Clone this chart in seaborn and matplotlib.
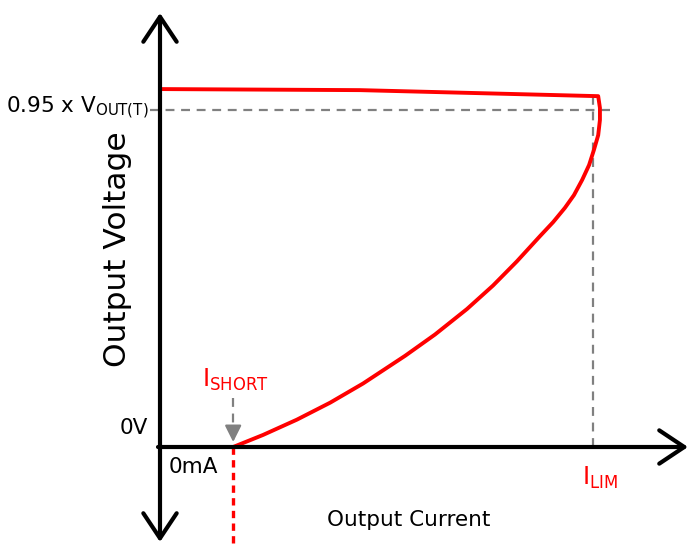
import numpy as np
import pandas as pd
import matplotlib
matplotlib.use("Agg")
import matplotlib.pyplot as plt
import seaborn as sns

# foldback current limit curve, current in % of I_LIM, voltage in % of V_OUT(T)
current = [0, 46.2, 101.2, 101.6, 101.6, 101.2, 100.2, 99.1, 97.5, 95.6,
           93.5, 90.8, 87.8, 82.4, 76.9, 70.9, 63.5, 56.6, 46.9, 39.3,
           31.6, 23.8, 16.9]
voltage = [100.9, 100.6, 98.9, 95.6, 92.2, 87.9, 83.7, 79.5, 75.3, 71.0,
           67.4, 63.4, 59.5, 52.3, 45.5, 38.9, 31.7, 25.7, 17.9, 12.5,
           7.7, 3.4, 0.0]

i_short = 16.9
i_lim = 100.0
v_knee = 95.0

sns.set_style("white")
plt.rcParams['font.family'] = ['DejaVu Sans']
plt.rcParams['text.color'] = 'black'

# pixel mapping: 1 % current = 4.33 px, 1 % voltage = 337/95 px
xpx = 433 / 100.0
ypx = 337 / 95.0
x0, y0 = 160, 447  # origin in pixels

fig = plt.figure(figsize=(6.9, 5.44), dpi=100)
ax = fig.add_axes([0, 0, 1, 1])
ax.set_xlim(-x0 / xpx, (690 - x0) / xpx)
ax.set_ylim(-(544 - y0) / ypx, y0 / ypx)
ax.axis("off")

def px(x, y):
    return (x - x0) / xpx, (y0 - y) / ypx

# axes with arrows
ax.annotate("", xy=px(160, 13), xytext=px(160, 542),
            arrowprops=dict(arrowstyle="<->,head_length=1.8,head_width=1.2",
                            lw=3, color="black", shrinkA=0, shrinkB=0))
ax.annotate("", xy=px(688, 447), xytext=px(158, 447),
            arrowprops=dict(arrowstyle="->,head_length=1.8,head_width=1.2",
                            lw=3, color="black", shrinkA=0, shrinkB=0))

# guide lines
gray = "#808080"
ax.plot([px(150, 0)[0], px(612, 0)[0]], [v_knee, v_knee], color=gray,
        lw=1.6, dashes=(4, 3))
ax.plot([i_lim, i_lim], [0, px(0, 92)[1]], color=gray, lw=1.6, dashes=(4, 3))

# short-circuit marker
ax.plot([i_short, i_short], [px(0, 398)[1], px(0, 428)[1]], color=gray,
        lw=1.6, dashes=(4, 3))
ax.annotate("", xy=(i_short, px(0, 442)[1]), xytext=(i_short, px(0, 427)[1]),
            arrowprops=dict(arrowstyle="-|>,head_length=1.0,head_width=0.5",
                            lw=1.6, color=gray, shrinkA=0, shrinkB=0))
ax.plot([i_short, i_short], [0, px(0, 544)[1]], color="red", lw=2.4,
        dashes=(2.2, 1.6))

df = pd.DataFrame({"I": current, "V": voltage})
sns.lineplot(data=df, x="I", y="V", sort=False, estimator=None,
             color="red", lw=2.8, ax=ax)

# labels
ax.text(*px(149, 108), r"0.95 x V$_\mathregular{OUT(T)}$", ha="right",
        va="center", fontsize=15.5)
ax.text(*px(148, 428), "0V", ha="right", va="center", fontsize=15.5)
ax.text(*px(169, 467), "0mA", ha="left", va="center", fontsize=15.5)
ax.text(*px(409, 520), "Output Current", ha="center", va="center",
        fontsize=15.5)
ax.text(*px(118, 249), "Output Voltage", ha="center", va="center",
        rotation=90, fontsize=22.5)
ax.text(*px(235, 380), r"I$_\mathregular{SHORT}$", ha="center", va="center",
        fontsize=17, color="red")
ax.text(*px(600, 478), r"I$_\mathregular{LIM}$", ha="center", va="center",
        fontsize=17, color="red")

fig.savefig("out.png", dpi=100)
